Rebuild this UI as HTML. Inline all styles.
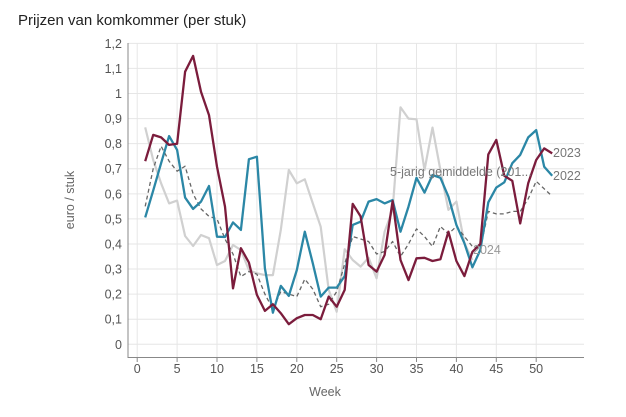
<!DOCTYPE html>
<html><head><meta charset="utf-8"><style>
body{margin:0;background:#fff;}
svg{display:block;font-family:"Liberation Sans",sans-serif;}
</style></head><body>
<svg id="s" width="626" height="417" viewBox="0 0 626 417">
<text x="18" y="25" font-size="15" fill="#222">Prijzen van komkommer (per stuk)</text>
<g id="grid"></g>
<g id="series"></g>
<text x="553" y="157" font-size="12.5" fill="#777">2023</text>
<text x="553" y="180" font-size="12.5" fill="#777">2022</text>
<text x="390" y="176" font-size="12.5" fill="#777">5-jarig gemiddelde (201...</text>
<text x="473" y="254" font-size="12.5" fill="#999">2024</text>
<text transform="translate(74,200) rotate(-90)" text-anchor="middle" font-size="12.5" fill="#666">euro / stuk</text>
<text x="325" y="396" text-anchor="middle" font-size="12.5" fill="#666">Week</text>
</svg>
<script>
var NS="http://www.w3.org/2000/svg";
function X(w){return 137.2+7.98*w;}
function Y(v){return 344.3-250.8*v;}
var g=document.getElementById("grid"),h='';
for(var i=0;i<=12;i++){var y=Y(i/10);h+='<line x1="128" x2="584" y1="'+y+'" y2="'+y+'" stroke="#e6e6e6"/>';
var lab=(i==0?'0':(i==10?'1':(i/10).toFixed(1).replace('.',',')));h+='<text x="122" y="'+(y+4.5)+'" text-anchor="end" font-size="12.5" fill="#555">'+lab+'</text>';}
for(var w=0;w<=50;w+=5){var x=X(w);h+='<line x1="'+x+'" x2="'+x+'" y1="43" y2="357" stroke="#e6e6e6"/><line x1="'+x+'" x2="'+x+'" y1="357" y2="362" stroke="#888"/><text x="'+x+'" y="373" text-anchor="middle" font-size="12.5" fill="#555">'+w+'</text>';}
h+='<line x1="128" x2="128" y1="43" y2="358" stroke="#888"/><line x1="128" x2="584" y1="357.5" y2="357.5" stroke="#888"/>';
g.innerHTML=h;
var d24=[.865,.735,.642,.562,.573,.432,.392,.436,.423,.316,.332,.396,.376,.296,.283,.276,.276,.456,.695,.642,.658,.562,.469,.217,.13,.379,.336,.31,.345,.263,.449,.536,.945,.90,.897,.695,.864,.695,.536,.569,.403,.336];
var avg=[.55,.70,.79,.73,.69,.71,.60,.54,.51,.50,.42,.36,.27,.29,.28,.20,.14,.21,.20,.19,.26,.22,.15,.16,.21,.32,.43,.42,.41,.36,.37,.41,.35,.40,.46,.43,.39,.47,.44,.47,.43,.39,.38,.53,.52,.52,.53,.53,.58,.65,.62,.59];
var d22=[.506,.613,.722,.83,.775,.585,.54,.569,.631,.429,.428,.486,.456,.738,.748,.303,.126,.233,.193,.296,.449,.323,.19,.226,.226,.272,.476,.489,.569,.579,.562,.575,.449,.549,.664,.605,.675,.664,.589,.476,.403,.307,.376,.566,.625,.646,.722,.755,.825,.854,.708,.672];
var d23=[.73,.835,.825,.795,.80,1.087,1.15,1.007,.914,.708,.549,.223,.383,.326,.197,.133,.16,.124,.08,.104,.117,.117,.10,.19,.15,.217,.56,.51,.316,.29,.356,.571,.336,.256,.343,.345,.332,.339,.449,.332,.272,.369,.40,.757,.815,.672,.652,.482,.642,.735,.781,.761];
function pl(d,c,wd,dash){return '<polyline fill="none" stroke="'+c+'" stroke-width="'+wd+'" stroke-linejoin="round"'+(dash?' stroke-dasharray="'+dash+'"':'')+' points="'+d.map(function(v,i){return X(i+1).toFixed(1)+','+Y(v).toFixed(1);}).join(' ')+'"/>';}
document.getElementById("series").innerHTML=pl(d24,'#d0d0d0',2.2)+pl(avg,'#666',1.3,'4,3')+pl(d22,'#2b87a6',2.3)+pl(d23,'#7b1c3c',2.3);
</script>
</body></html>
